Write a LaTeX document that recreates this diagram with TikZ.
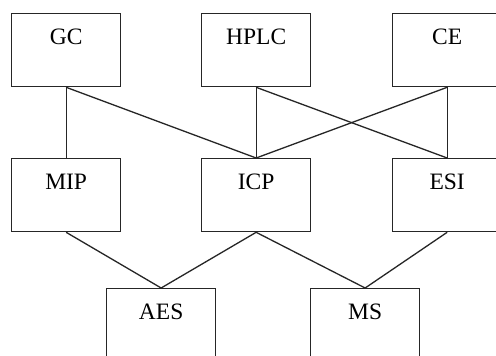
\documentclass[tikz,border=0pt]{standalone}
\usepackage{fontspec}
\setmainfont{Liberation Serif}
\begin{document}
\begin{tikzpicture}[x=1pt,y=-1pt,
  box/.style={draw=black!85, line width=1.3pt, rectangle, inner sep=0pt,
    minimum width=109pt, minimum height=73pt, text height=31pt, text depth=42pt,
    font=\fontsize{23.5}{26}\selectfont, anchor=north west},
  conn/.style={draw=black!85, line width=1.3pt}]
\useasboundingbox (0,0) rectangle (496,356);
\clip (0,0) rectangle (496,356);
\fill[white] (0,0) rectangle (496,356);
\node[box] (gc) at (11,13) {GC};
\node[box] (hplc) at (201,13) {HPLC};
\node[box] (ce) at (392,13) {CE};
\node[box] (mip) at (11,158) {MIP};
\node[box] (icp) at (201,158) {ICP};
\node[box] (esi) at (392,158) {ESI};
\node[box] (aes) at (106,288) {AES};
\node[box] (ms) at (310,288) {MS};
\draw[conn] (gc.south) -- (mip.north);
\draw[conn] (gc.south) -- (icp.north);
\draw[conn] (hplc.south) -- (icp.north);
\draw[conn] (hplc.south) -- (esi.north);
\draw[conn] (ce.south) -- (icp.north);
\draw[conn] (ce.south) -- (esi.north);
\draw[conn] (mip.south) -- (aes.north);
\draw[conn] (icp.south) -- (aes.north);
\draw[conn] (icp.south) -- (ms.north);
\draw[conn] (esi.south) -- (ms.north);
\end{tikzpicture}
\end{document}
